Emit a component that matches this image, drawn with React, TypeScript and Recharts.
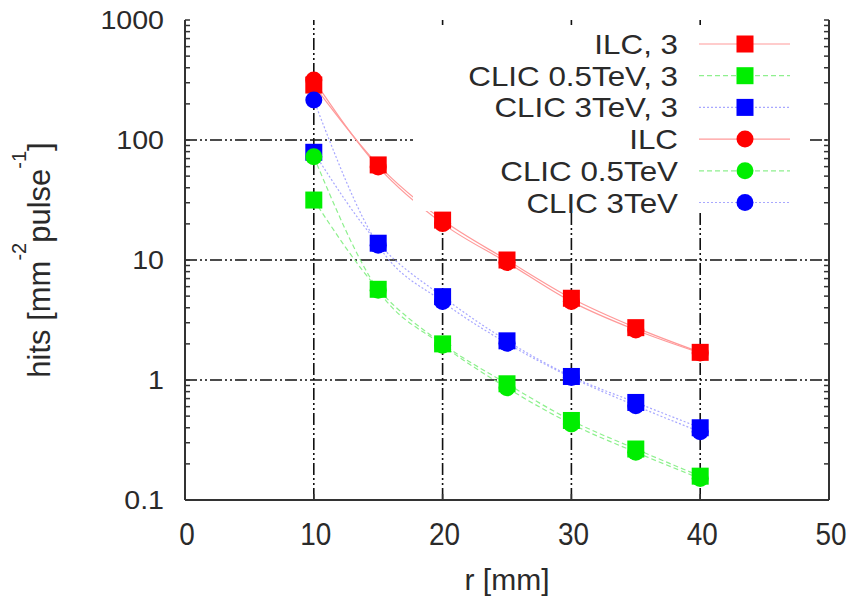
import React from "react";
import {
  LineChart,
  Line,
  XAxis,
  YAxis,
  ReferenceLine,
} from "recharts";

// radius in mm
const RADII = [10, 15, 20, 25, 30, 35, 40];

// hits per mm^2 per bunch train; the ", 3" runs are the outer-layer variant
const ILC_3 = [287, 62, 21.5, 10, 4.8, 2.73, 1.7];
const CLIC05_3 = [31.6, 5.7, 2.0, 0.93, 0.46, 0.266, 0.158];
const CLIC3_3 = [79, 13.8, 4.95, 2.12, 1.07, 0.65, 0.4];
const ILC = [316, 59.6, 20.1, 9.55, 4.5, 2.61, 1.68];
const CLIC05 = [72.6, 5.6, 1.95, 0.86, 0.43, 0.25, 0.151];
const CLIC3 = [215, 13.3, 4.5, 2.02, 1.05, 0.61, 0.37];

const X_TICKS = [0, 10, 20, 30, 40, 50];
const X_GRID = [10, 20, 30, 40];
const Y_DECADES = [0.1, 1, 10, 100, 1000];
const Y_GRID = [1, 10, 100];
const MINOR_STEPS = [2, 3, 4, 5, 6, 7, 8, 9];

const Y_TICKS = Y_DECADES.flatMap((d, i) =>
  i < Y_DECADES.length - 1 ? [d, ...MINOR_STEPS.map((m) => +(d * m).toPrecision(3))] : [d]
);

const data = RADII.map((r, i) => ({
  r,
  ilc3: ILC_3[i],
  clic05_3: CLIC05_3[i],
  clic3_3: CLIC3_3[i],
  ilc: ILC[i],
  clic05: CLIC05[i],
  clic3: CLIC3[i],
}));

const RED = "#ff0000";
const GREEN = "#00ee00";
const BLUE = "#0000ff";

const SERIES = [
  { key: "ilc3", name: "ILC, 3", color: RED, line: "#ff9a9a", dash: undefined, shape: "square" },
  { key: "clic05_3", name: "CLIC 0.5TeV, 3", color: GREEN, line: "#8ef08e", dash: "5 3", shape: "square" },
  { key: "clic3_3", name: "CLIC 3TeV, 3", color: BLUE, line: "#a8a8ff", dash: "2 2", shape: "square" },
  { key: "ilc", name: "ILC", color: RED, line: "#ff9a9a", dash: undefined, shape: "circle" },
  { key: "clic05", name: "CLIC 0.5TeV", color: GREEN, line: "#8ef08e", dash: "5 3", shape: "circle" },
  { key: "clic3", name: "CLIC 3TeV", color: BLUE, line: "#a8a8ff", dash: "2 2", shape: "circle" },
];

const FONT = '"Liberation Sans", Arial, Helvetica, sans-serif';
const INK = "#2a2a2a";
const AXIS = "#333";
const GRID_DASH = "12 3 2 3 2 3";
const MARK = 17;

const W = 862;
const H = 601;

function isDecade(v: number) {
  return Y_DECADES.some((d) => Math.abs(d - v) < 1e-9);
}

function LeftTick(props: any) {
  const { x, y, payload } = props;
  const v = payload.value;
  return (
    <g>
      <line x1={x} x2={x + 5} y1={y} y2={y} stroke={AXIS} strokeWidth={1.5} />
      {isDecade(v) && (
        <text
          transform={`translate(${x - 21},${y + 9}) scale(1.1,1)`}
          textAnchor="end"
          fontSize={26}
          fontFamily={FONT}
          fill={INK}
        >
          {v}
        </text>
      )}
    </g>
  );
}

function RightTick(props: any) {
  const { x, y } = props;
  return <line x1={x} x2={x - 5} y1={y} y2={y} stroke={AXIS} strokeWidth={1.5} />;
}

function BottomTick(props: any) {
  const { x, y, payload } = props;
  return (
    <g>
      <line x1={x} x2={x} y1={y} y2={y - 6} stroke={AXIS} strokeWidth={1.5} />
      <text
        transform={`translate(${x + 2},${y + 45}) scale(0.9,1)`}
        textAnchor="middle"
        fontSize={31}
        fontFamily={FONT}
        fill={INK}
      >
        {payload.value}
      </text>
    </g>
  );
}

function TopTick(props: any) {
  const { x, y } = props;
  return <line x1={x} x2={x} y1={y} y2={y + 5} stroke={AXIS} strokeWidth={1.5} />;
}

function YTitle(props: any) {
  const { x, y, height } = props.viewBox;
  const cx = x + 50;
  const cy = y + height / 2;
  return (
    <text
      transform={`rotate(-90, ${cx}, ${cy})`}
      x={cx}
      y={cy}
      textAnchor="middle"
      fontSize={31}
      fontFamily={FONT}
      fill={INK}
    >
      <tspan>hits [mm</tspan>
      <tspan dy={-24} fontSize={20}>-2</tspan>
      <tspan dy={24}>pulse</tspan>
      <tspan dy={-24} fontSize={20}>-1</tspan>
      <tspan dy={24}>]</tspan>
    </text>
  );
}

function XTitle(props: any) {
  const { x, y, width } = props.viewBox;
  return (
    <text
      x={x + width / 2}
      y={y + 90}
      textAnchor="middle"
      fontSize={30}
      fontFamily={FONT}
      fill={INK}
    >
      r [mm]
    </text>
  );
}

function squareDot(color: string) {
  return (p: any) => {
    if (p.cx == null || p.cy == null) return <g key={p.key} />;
    return (
      <rect
        key={p.key}
        x={p.cx - MARK / 2}
        y={p.cy - MARK / 2}
        width={MARK}
        height={MARK}
        fill={color}
      />
    );
  };
}

// opaque key panel in the upper right, over the grid but clear of the data
function KeyBox() {
  const rowH = 31.7;
  return (
    <div
      style={{
        position: "absolute",
        left: 413,
        top: 27,
        width: 395,
        height: 184,
        background: "#fff",
      }}
    >
      <svg width={395} height={192} style={{ overflow: "visible" }}>
        {SERIES.map((s, i) => {
          const cy = 17 + i * rowH;
          return (
            <g key={s.key}>
              <text
                transform={`translate(265,${cy + 10}) scale(1.12,1)`}
                textAnchor="end"
                fontSize={28}
                fontFamily={FONT}
                fill={INK}
              >
                {s.name}
              </text>
              <line
                x1={286}
                x2={377}
                y1={cy}
                y2={cy}
                stroke={s.line}
                strokeWidth={1.2}
                strokeDasharray={s.dash}
              />
              {s.shape === "square" ? (
                <rect x={332 - MARK / 2} y={cy - MARK / 2} width={MARK} height={MARK} fill={s.color} />
              ) : (
                <circle cx={332} cy={cy} r={MARK / 2} fill={s.color} />
              )}
            </g>
          );
        })}
      </svg>
    </div>
  );
}

export default function App() {
  return (
    <div style={{ position: "absolute", left: 0, top: 0, width: W, height: H, background: "#fff" }}>
      <LineChart width={W} height={H} data={data} margin={{ top: 20, right: 0, bottom: 0, left: 0 }}>
        <XAxis
          xAxisId="b"
          type="number"
          dataKey="r"
          domain={[0, 50]}
          ticks={X_TICKS}
          interval={0}
          height={101}
          tickSize={0}
          tickMargin={0}
          tickLine={false}
          tick={<BottomTick />}
          axisLine={{ stroke: AXIS, strokeWidth: 2 }}
          label={{ content: (p: any) => <XTitle {...p} /> }}
        />
        <XAxis
          xAxisId="t"
          orientation="top"
          type="number"
          dataKey="r"
          domain={[0, 50]}
          ticks={X_TICKS}
          interval={0}
          height={0}
          tickSize={0}
          tickMargin={0}
          tickLine={false}
          tick={<TopTick />}
          axisLine={{ stroke: AXIS, strokeWidth: 2 }}
        />
        <YAxis
          yAxisId="l"
          scale="log"
          domain={[0.1, 1000]}
          allowDataOverflow
          ticks={Y_TICKS}
          interval={0}
          width={185}
          tickSize={0}
          tickMargin={0}
          tickLine={false}
          tick={<LeftTick />}
          axisLine={{ stroke: AXIS, strokeWidth: 2 }}
          label={{ content: (p: any) => <YTitle {...p} /> }}
        />
        <YAxis
          yAxisId="r"
          orientation="right"
          scale="log"
          domain={[0.1, 1000]}
          allowDataOverflow
          ticks={Y_TICKS}
          interval={0}
          width={33}
          tickSize={0}
          tickMargin={0}
          tickLine={false}
          tick={<RightTick />}
          axisLine={{ stroke: AXIS, strokeWidth: 2 }}
        />

        {X_GRID.map((v) => (
          <ReferenceLine
            key={`gx${v}`}
            xAxisId="b"
            yAxisId="l"
            x={v}
            stroke="#111"
            strokeWidth={1.6}
            strokeDasharray={GRID_DASH}
          />
        ))}
        {Y_GRID.map((v) => (
          <ReferenceLine
            key={`gy${v}`}
            xAxisId="b"
            yAxisId="l"
            y={v}
            stroke="#111"
            strokeWidth={1.6}
            strokeDasharray={GRID_DASH}
          />
        ))}

        {SERIES.map((s) => (
          <Line
            key={s.key}
            xAxisId="b"
            yAxisId="l"
            dataKey={s.key}
            type="monotone"
            stroke={s.line}
            strokeWidth={1.2}
            strokeDasharray={s.dash}
            dot={s.shape === "square" ? squareDot(s.color) : { r: MARK / 2, fill: s.color, stroke: "none" }}
            activeDot={false}
            isAnimationActive={false}
          />
        ))}
      </LineChart>
      <KeyBox />
    </div>
  );
}
